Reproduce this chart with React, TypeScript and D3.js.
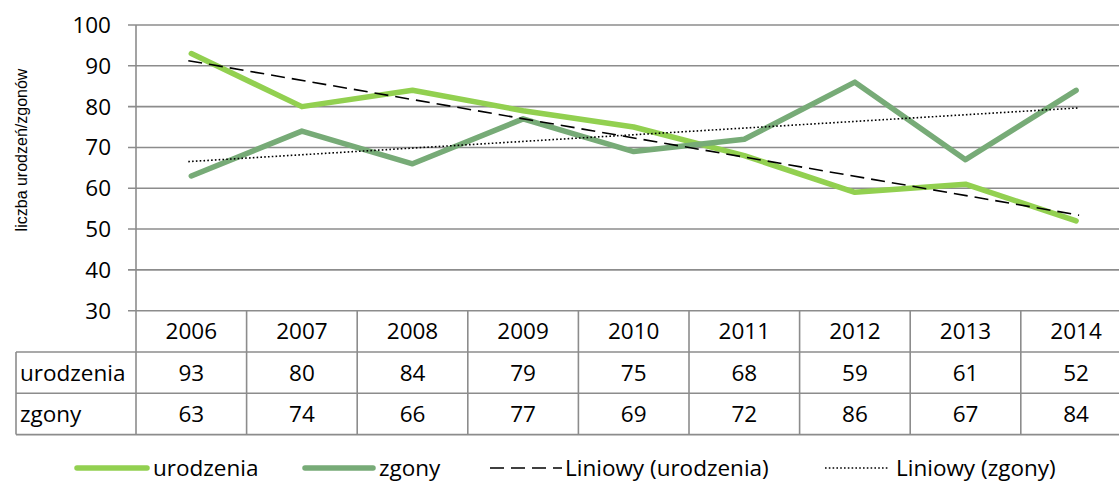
import React from "react";
import * as d3 from "d3";

const years = ["2006", "2007", "2008", "2009", "2010", "2011", "2012", "2013", "2014"];
const urodzenia = [93, 80, 84, 79, 75, 68, 59, 61, 52];
const zgony = [63, 74, 66, 77, 69, 72, 86, 67, 84];
const yTicks = [30, 40, 50, 60, 70, 80, 90, 100];
const seriesNames = ["urodzenia", "zgony"];
const trendNames = ["Liniowy (urodzenia)", "Liniowy (zgony)"];
const yTitle = "liczba urodzeń/zgonów";

const W = 1119;
const H = 485;
const plotLeft = 136;
const colW = 110.6;
const plotRight = plotLeft + colW * years.length;
const plotTop = 25;
const plotBottom = 310.7;
const rowH = 41.3;
const tableLeft = 16;

const C_URO = "#92D050";
const C_ZG = "#77AB77";
const GRID = "#8C8C8C";
const FONT = "'Open Sans', sans-serif";
const FS = 22.5;

function linreg(vals: number[]) {
  const n = vals.length;
  const xs = vals.map((_, i) => i);
  const mx = d3.mean(xs)!;
  const my = d3.mean(vals)!;
  let sxy = 0, sxx = 0;
  xs.forEach((x, i) => {
    sxy += (x - mx) * (vals[i] - my);
    sxx += (x - mx) * (x - mx);
  });
  const b = sxy / sxx;
  const a = my - b * mx;
  return [a, a + b * (n - 1)];
}

export default function App() {
  const x = d3.scaleBand<string>().domain(years).range([plotLeft, plotRight]);
  const y = d3.scaleLinear().domain([30, 100]).range([plotBottom, plotTop]);
  const cx = (i: number) => x(years[i])! + x.bandwidth() / 2;
  const line = d3
    .line<number>()
    .x((_, i) => cx(i))
    .y((d) => y(d));

  const tU = linreg(urodzenia);
  const tZ = linreg(zgony);
  const trendX = [cx(0) - 3, cx(years.length - 1) + 3];
  const tval = (t: number[], xx: number) => {
    const i = (xx - cx(0)) / colW;
    return t[0] + ((t[1] - t[0]) * i) / (years.length - 1);
  };

  const rows = [
    { name: seriesNames[0], vals: urodzenia },
    { name: seriesNames[1], vals: zgony },
  ];
  const tableBottom = plotBottom + rowH * 3;
  const legY = 468;

  return (
    <svg width={W} height={H} style={{ display: "block", position: "absolute", left: 0, top: 0 }}>
      <rect width={W} height={H} fill="#fff" />
      {yTicks.map((t) => (
        <g key={t}>
          <line x1={plotLeft - 8} x2={plotRight} y1={y(t)} y2={y(t)} stroke={GRID} strokeWidth={1.6} />
          <text x={111} y={y(t)} dy="0.35em" textAnchor="end" fontFamily={FONT} fontSize={FS} fill="#000">
            {t}
          </text>
        </g>
      ))}
      <line x1={plotLeft} x2={plotLeft} y1={plotTop} y2={tableBottom} stroke={GRID} strokeWidth={1.6} />
      <text
        transform={`translate(${21},${150}) rotate(-90)`}
        textAnchor="middle"
        dy="0.35em"
        fontFamily="'Liberation Sans', Arial, sans-serif"
        fontSize={16}
        fill="#000"
      >
        {yTitle}
      </text>
      {[1, 2, 3].map((r) => (
        <line
          key={r}
          x1={tableLeft}
          x2={plotRight}
          y1={plotBottom + rowH * r}
          y2={plotBottom + rowH * r}
          stroke={GRID}
          strokeWidth={1.6}
        />
      ))}
      <line x1={tableLeft} x2={tableLeft} y1={plotBottom + rowH} y2={tableBottom} stroke={GRID} strokeWidth={1.6} />
      {years.map((yr, i) => (
        <g key={yr}>
          <line
            x1={x(yr)! + colW}
            x2={x(yr)! + colW}
            y1={plotBottom}
            y2={tableBottom}
            stroke={GRID}
            strokeWidth={1.6}
          />
          <text x={cx(i)} y={plotBottom + rowH / 2} dy="0.35em" textAnchor="middle" fontFamily={FONT} fontSize={FS}>
            {yr}
          </text>
          {rows.map((r, ri) => (
            <text
              key={r.name}
              x={cx(i)}
              y={plotBottom + rowH * (ri + 1.5)}
              dy="0.35em"
              textAnchor="middle"
              fontFamily={FONT}
              fontSize={FS}
            >
              {r.vals[i]}
            </text>
          ))}
        </g>
      ))}
      {rows.map((r, ri) => (
        <text key={r.name} x={tableLeft + 4} y={plotBottom + rowH * (ri + 1.5)} dy="0.35em" fontFamily={FONT} fontSize={FS}>
          {r.name}
        </text>
      ))}
      <path d={line(urodzenia)!} fill="none" stroke={C_URO} strokeWidth={5.5} strokeLinecap="round" strokeLinejoin="round" />
      <path d={line(zgony)!} fill="none" stroke={C_ZG} strokeWidth={5.5} strokeLinecap="round" strokeLinejoin="round" />
      <line
        x1={trendX[0]}
        x2={trendX[1]}
        y1={y(tval(tU, trendX[0]))}
        y2={y(tval(tU, trendX[1]))}
        stroke="#000"
        strokeWidth={1.6}
        strokeDasharray="14 7"
      />
      <line
        x1={trendX[0]}
        x2={trendX[1]}
        y1={y(tval(tZ, trendX[0]))}
        y2={y(tval(tZ, trendX[1]))}
        stroke="#000"
        strokeWidth={1.6}
        strokeDasharray="1.6 2.2"
      />
      <line x1={77} x2={147} y1={legY} y2={legY} stroke={C_URO} strokeWidth={5.5} strokeLinecap="round" />
      <text x={153} y={legY} dy="0.35em" fontFamily={FONT} fontSize={FS}>
        {seriesNames[0]}
      </text>
      <line x1={305} x2={373} y1={legY} y2={legY} stroke={C_ZG} strokeWidth={5.5} strokeLinecap="round" />
      <text x={379} y={legY} dy="0.35em" fontFamily={FONT} fontSize={FS}>
        {seriesNames[1]}
      </text>
      <line x1={490} x2={562} y1={legY} y2={legY} stroke="#000" strokeWidth={1.6} strokeDasharray="14 7" />
      <text x={565} y={legY} dy="0.35em" fontFamily={FONT} fontSize={FS}>
        {trendNames[0]}
      </text>
      <line x1={825} x2={888} y1={legY} y2={legY} stroke="#000" strokeWidth={1.6} strokeDasharray="1.6 2.2" />
      <text x={896} y={legY} dy="0.35em" fontFamily={FONT} fontSize={FS}>
        {trendNames[1]}
      </text>
    </svg>
  );
}
